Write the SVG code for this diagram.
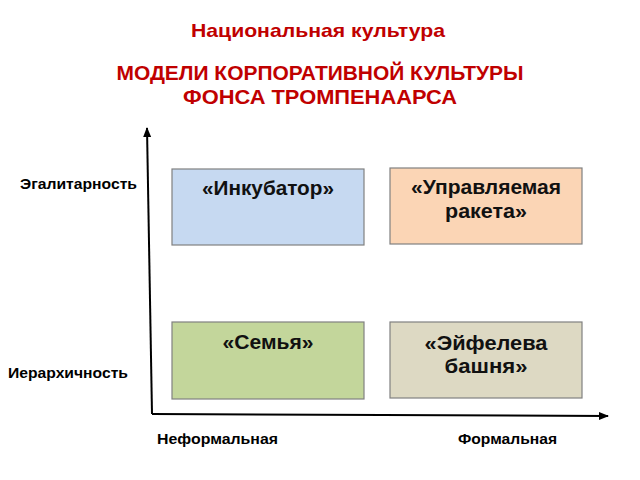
<svg xmlns="http://www.w3.org/2000/svg" width="640" height="480" viewBox="0 0 640 480">
<style>
.t{font-family:"Liberation Sans",Arial,sans-serif;font-weight:bold;fill:#c00000;text-anchor:middle}
.ax{font-family:"Liberation Sans",Arial,sans-serif;font-weight:bold;font-size:15px;fill:#000}
.bx{stroke:#808080;stroke-width:1.2}
.bt{font-family:"Liberation Sans",Arial,sans-serif;font-weight:bold;font-size:20px;fill:#111;text-anchor:middle}
.ln{stroke:#000;stroke-width:2;fill:none}
</style>
<defs>
<marker id="ah" viewBox="0 0 10 10" refX="9" refY="5" markerWidth="5" markerHeight="5" orient="auto" markerUnits="strokeWidth">
<path d="M0,1 L10,5 L0,9 Z" fill="#000"/>
</marker>
</defs>
<rect width="640" height="480" fill="#fff"/>
<g id="title">
<text class="t" x="318" y="37" font-size="19" textLength="254" lengthAdjust="spacingAndGlyphs">Национальная культура</text>
<text class="t" x="320" y="80" font-size="20" textLength="407" lengthAdjust="spacingAndGlyphs">МОДЕЛИ КОРПОРАТИВНОЙ КУЛЬТУРЫ</text>
<text class="t" x="320" y="104" font-size="20" textLength="274" lengthAdjust="spacingAndGlyphs">ФОНСА ТРОМПЕНААРСА</text>
</g>
<g id="connectors">
<line class="ln" x1="152" y1="414" x2="147" y2="128" marker-end="url(#ah)"/>
<line class="ln" x1="152" y1="414" x2="608" y2="416" marker-end="url(#ah)"/>
</g>
<g id="labels">
<text class="ax" x="20" y="189" textLength="117" lengthAdjust="spacingAndGlyphs">Эгалитарность</text>
<text class="ax" x="8" y="378" textLength="120" lengthAdjust="spacingAndGlyphs">Иерархичность</text>
<text class="ax" x="157" y="444" textLength="121" lengthAdjust="spacingAndGlyphs">Неформальная</text>
<text class="ax" x="458" y="444" textLength="99" lengthAdjust="spacingAndGlyphs">Формальная</text>
</g>
<g id="incubator">
<rect class="bx" x="172" y="169" width="192" height="76" fill="#c6d9f1"/>
<text class="bt" x="268" y="195" textLength="132" lengthAdjust="spacingAndGlyphs">«Инкубатор»</text>
</g>
<g id="rocket">
<rect class="bx" x="390" y="168" width="192" height="76" fill="#fbd5b5"/>
<text class="bt" x="486" y="194" textLength="150" lengthAdjust="spacingAndGlyphs">«Управляемая</text>
<text class="bt" x="486" y="218" textLength="82" lengthAdjust="spacingAndGlyphs">ракета»</text>
</g>
<g id="family">
<rect class="bx" x="172" y="322" width="192" height="77" fill="#c3d69b"/>
<text class="bt" x="268" y="349" textLength="91" lengthAdjust="spacingAndGlyphs">«Семья»</text>
</g>
<g id="eiffel">
<rect class="bx" x="390" y="322" width="192" height="76" fill="#ddd9c3"/>
<text class="bt" x="486" y="350" textLength="123" lengthAdjust="spacingAndGlyphs">«Эйфелева</text>
<text class="bt" x="486" y="373" textLength="83" lengthAdjust="spacingAndGlyphs">башня»</text>
</g>
</svg>
